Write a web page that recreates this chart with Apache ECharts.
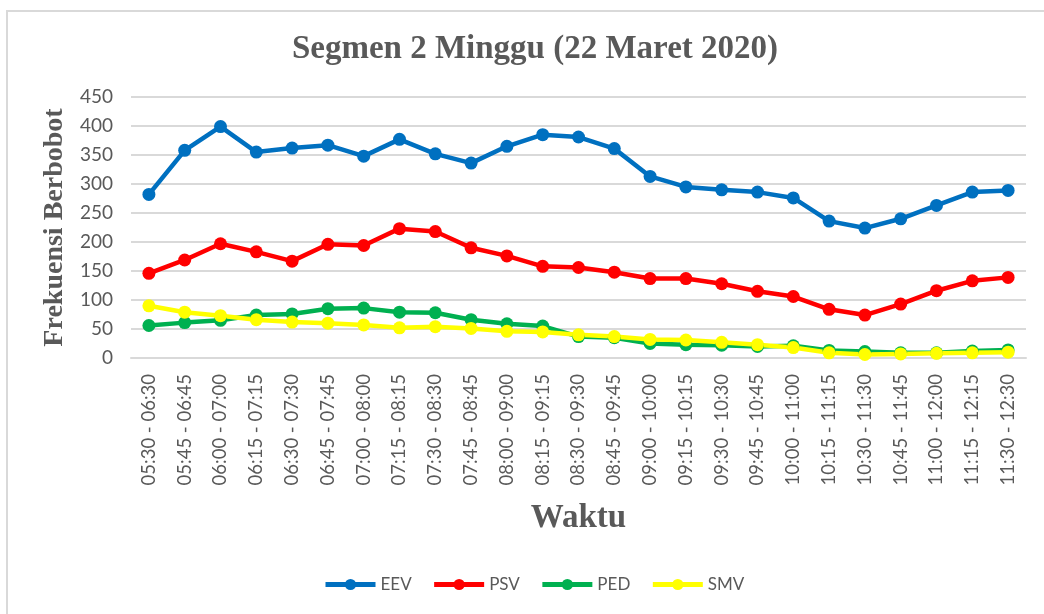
<!DOCTYPE html>
<html>
<head>
<meta charset="utf-8">
<script src="https://cdn.jsdelivr.net/npm/echarts@6/dist/echarts.min.js"></script>
<style>
  html, body { margin: 0; padding: 0; background: #fff; }
  #chart { width: 1044px; height: 614px; }
</style>
</head>
<body>
<div id="chart"></div>
<script>
  var waktu = ['05:30 - 06:30', '05:45 - 06:45', '06:00 - 07:00', '06:15 - 07:15', '06:30 - 07:30',
    '06:45 - 07:45', '07:00 - 08:00', '07:15 - 08:15', '07:30 - 08:30', '07:45 - 08:45',
    '08:00 - 09:00', '08:15 - 09:15', '08:30 - 09:30', '08:45 - 09:45', '09:00 - 10:00',
    '09:15 - 10:15', '09:30 - 10:30', '09:45 - 10:45', '10:00 - 11:00', '10:15 - 11:15',
    '10:30 - 11:30', '10:45 - 11:45', '11:00 - 12:00', '11:15 - 12:15', '11:30 - 12:30'];
  var eev = [282, 358, 399, 355, 362, 367, 348, 377, 352, 336, 365, 385, 381, 361, 313, 295, 290, 286, 276, 236, 224, 240, 263, 286, 289];
  var psv = [146, 169, 197, 183, 167, 196, 194, 223, 218, 190, 176, 158, 156, 148, 137, 137, 128, 115, 106, 84, 74, 93, 116, 133, 139];
  var ped = [56, 61, 65, 74, 76, 85, 86, 79, 78, 66, 59, 55, 37, 35, 25, 23, 22, 20, 21, 13, 11, 9, 9, 12, 14];
  var smv = [90, 79, 73, 66, 62, 60, 57, 52, 54, 51, 46, 45, 40, 37, 32, 31, 27, 23, 18, 9, 6, 7, 8, 9, 10];

  var textGray = '#595959';
  var serif = '"Liberation Serif", "DejaVu Serif", serif';
  var sans = 'Lato, "Noto Sans", sans-serif';

  function makeLine(name, data, color) {
    return {
      name: name,
      type: 'line',
      data: data,
      symbol: 'circle',
      symbolSize: 13,
      lineStyle: { width: 4.5, color: color },
      itemStyle: { color: color },
      emphasis: { disabled: true }
    };
  }

  var myChart = echarts.init(document.getElementById('chart'), null, { renderer: 'canvas' });
  var option = {
    animation: false,
    backgroundColor: '#fff',
    graphic: [{
      type: 'rect',
      shape: { x: 7, y: 11, width: 1100, height: 700 },
      style: { fill: 'none', stroke: '#d9d9d9', lineWidth: 2 },
      silent: true
    }],
    title: {
      text: 'Segmen 2 Minggu (22 Maret 2020)',
      left: 530,
      top: 28,
      textAlign: 'center',
      textStyle: { fontFamily: serif, fontWeight: 'bold', fontSize: 33, color: textGray }
    },
    legend: {
      bottom: 16,
      left: 318,
      itemWidth: 50,
      itemHeight: 14,
      itemGap: 20,
      lineStyle: { width: 5 },
      textStyle: { fontFamily: sans, fontSize: 17, color: textGray },
      data: ['EEV', 'PSV', 'PED', 'SMV']
    },
    grid: { left: 131, right: 18, top: 97, bottom: 256, containLabel: false },
    xAxis: {
      type: 'category',
      data: waktu,
      boundaryGap: true,
      name: 'Waktu',
      nameLocation: 'middle',
      nameGap: 144,
      nameTextStyle: { fontFamily: serif, fontWeight: 'bold', fontSize: 33, color: textGray },
      axisLine: { show: true, lineStyle: { color: '#d9d9d9', width: 2 } },
      axisTick: { show: false },
      axisLabel: { rotate: 90, interval: 0, margin: 16, fontFamily: sans, fontSize: 18.5, color: textGray }
    },
    yAxis: {
      type: 'value',
      min: 0,
      max: 450,
      interval: 50,
      name: 'Frekuensi Berbobot',
      nameLocation: 'middle',
      nameGap: 60,
      nameTextStyle: { fontFamily: serif, fontWeight: 'bold', fontSize: 28, color: textGray },
      axisLine: { show: false },
      axisTick: { show: false },
      axisLabel: { margin: 18, fontFamily: sans, fontSize: 19, color: textGray },
      splitLine: { lineStyle: { color: '#d9d9d9', width: 2 } }
    },
    series: [
      makeLine('EEV', eev, '#0070C0'),
      makeLine('PSV', psv, '#FF0000'),
      makeLine('PED', ped, '#00B050'),
      makeLine('SMV', smv, '#FFFF00')
    ]
  };
  myChart.setOption(option);
</script>
</body>
</html>
